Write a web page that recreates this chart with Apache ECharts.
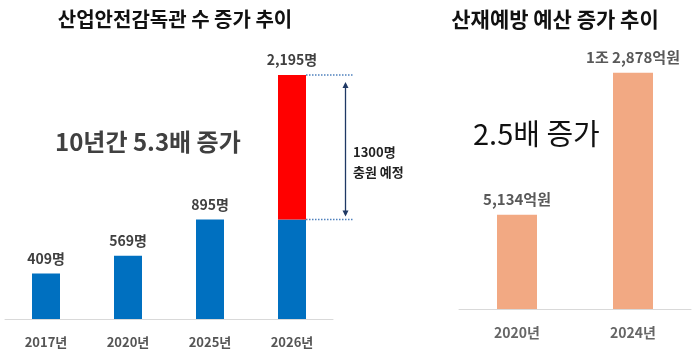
<!DOCTYPE html>
<html><head><meta charset="utf-8">
<script src="https://cdn.jsdelivr.net/npm/echarts@6/dist/echarts.min.js"></script>
<style>html,body{margin:0;padding:0;background:#fff}#c{width:700px;height:364px}</style>
</head><body><div id="c"></div>
<script>
const catsL = ['2017년','2020년','2025년','2026년'];
const inspectors = [409, 569, 895, 895];
const planned = [null, null, null, 1300];
const catsR = ['2020년','2024년'];
const budget = [5134, 12878];
const titleL = '산업안전감독관 수 증가 추이';
const titleR = '산재예방 예산 증가 추이';
const noteL = '10년간 5.3배 증가';
const noteR = '2.5배 증가';
const plannedNote = ['1300명', '충원 예정'];

const FONT = '"Noto Sans CJK KR", "Noto Sans", sans-serif';
function comma(n){ return String(n).replace(/\B(?=(\d{3})+(?!\d))/g, ','); }
function won(v){
  if (v >= 10000) { const r = v % 10000; return Math.floor(v/10000) + '조 ' + comma(r) + '억원'; }
  return comma(v) + '억원';
}
const totalL = inspectors.map((v,i)=> v + (planned[i]||0));
const maxL = Math.max(...totalL);
const maxR = Math.max(...budget);

const chart = echarts.init(document.getElementById('c'), null, {renderer:'canvas'});
const option = {
  animation: false,
  textStyle: {fontFamily: FONT},
  title: [
    {text: titleL, left: 170, top: 4, textAlign: 'center',
     textStyle: {fontFamily: FONT, fontSize: 20, fontWeight: 'bold', color: '#111'}},
    {text: titleR, left: 550, top: 4, textAlign: 'center',
     textStyle: {fontFamily: FONT, fontSize: 21, fontWeight: 'bold', color: '#111'}}
  ],
  grid: [
    {left: 5, width: 328, top: 75, height: 244, containLabel: false},
    {left: 459, width: 232, top: 72.7, height: 236.3, containLabel: false}
  ],
  xAxis: [
    {type: 'category', gridIndex: 0, data: catsL,
     axisLine: {lineStyle: {color: '#d9d9d9', width: 1}}, axisTick: {show: false},
     axisLabel: {fontFamily: FONT, fontSize: 13, fontWeight: 'bold', color: '#555', margin: 17}},
    {type: 'category', gridIndex: 1, data: catsR,
     axisLine: {lineStyle: {color: '#d9d9d9', width: 1}}, axisTick: {show: false},
     axisLabel: {fontFamily: FONT, fontSize: 14, fontWeight: 'bold', color: '#666', margin: 17}}
  ],
  yAxis: [
    {type: 'value', gridIndex: 0, min: 0, max: maxL, show: false, splitLine: {show: false}},
    {type: 'value', gridIndex: 1, min: 0, max: maxR, show: false, splitLine: {show: false}}
  ],
  series: [
    {type: 'bar', name: 'inspectors', xAxisIndex: 0, yAxisIndex: 0, stack: 'L', barWidth: 28,
     itemStyle: {color: '#0070C0'},
     data: inspectors.map((v,i)=>({value: v, label: {show: !planned[i]}})),
     label: {show: true, position: 'top', distance: 8, fontFamily: FONT, fontSize: 14, fontWeight: 'bold', color: '#404040',
       formatter: p => comma(p.value) + '명'}},
    {type: 'bar', name: 'planned', xAxisIndex: 0, yAxisIndex: 0, stack: 'L', barWidth: 28,
     itemStyle: {color: '#FF0000'},
     data: planned,
     label: {show: true, position: 'top', distance: 8, fontFamily: FONT, fontSize: 14, fontWeight: 'bold', color: '#404040',
       formatter: p => comma(totalL[p.dataIndex]) + '명'}},
    {type: 'bar', name: 'budget', xAxisIndex: 1, yAxisIndex: 1, barWidth: 40,
     itemStyle: {color: '#F2A983'},
     data: budget,
     label: {show: true, position: 'top', distance: 8, fontFamily: FONT, fontSize: 15, fontWeight: 'bold', color: '#595959',
       formatter: p => won(p.value)}}
  ]
};
chart.setOption(option);

// annotations derived from data via the axes
const idx = planned.findIndex(v => v);
const topPt = chart.convertToPixel({xAxisIndex:0, yAxisIndex:0}, [idx, totalL[idx]]);
const basePt = chart.convertToPixel({xAxisIndex:0, yAxisIndex:0}, [idx, inspectors[idx]]);
const barRight = topPt[0] + 14;
const lineEnd = barRight + 47;
const ax = barRight + 39.5;
const navy = '#1F3864';
const dot = '#4F81BD';
chart.setOption({
  graphic: [
    {type: 'line', shape: {x1: barRight, y1: topPt[1], x2: lineEnd, y2: topPt[1]},
     style: {stroke: dot, lineWidth: 1.5, lineDash: [1.5, 1.5]}},
    {type: 'line', shape: {x1: barRight, y1: basePt[1], x2: lineEnd, y2: basePt[1]},
     style: {stroke: dot, lineWidth: 1.5, lineDash: [1.5, 1.5]}},
    {type: 'line', shape: {x1: ax, y1: topPt[1] + 9, x2: ax, y2: basePt[1] - 5},
     style: {stroke: navy, lineWidth: 1.3}},
    {type: 'polygon', shape: {points: [[ax, topPt[1] + 7], [ax - 3, topPt[1] + 13], [ax + 3, topPt[1] + 13]]},
     style: {fill: navy}},
    {type: 'polygon', shape: {points: [[ax, basePt[1] - 3], [ax - 3, basePt[1] - 9], [ax + 3, basePt[1] - 9]]},
     style: {fill: navy}},
    {type: 'text', x: lineEnd, y: 152, style: {text: plannedNote[0], fontFamily: FONT, fontSize: 13, fontWeight: 'bold', fill: '#222', verticalAlign: 'middle'}},
    {type: 'text', x: lineEnd, y: 172, style: {text: plannedNote[1], fontFamily: FONT, fontSize: 13, fontWeight: 'bold', fill: '#222', verticalAlign: 'middle'}},
    {type: 'text', x: 55, y: 142, style: {text: noteL, fontFamily: FONT, fontSize: 24, fontWeight: 'bold', fill: '#404040', verticalAlign: 'middle'}},
    {type: 'text', x: 473, y: 134, style: {text: noteR, fontFamily: FONT, fontSize: 29, fontWeight: 'normal', fill: '#111', verticalAlign: 'middle'}}
  ]
});
</script></body></html>
